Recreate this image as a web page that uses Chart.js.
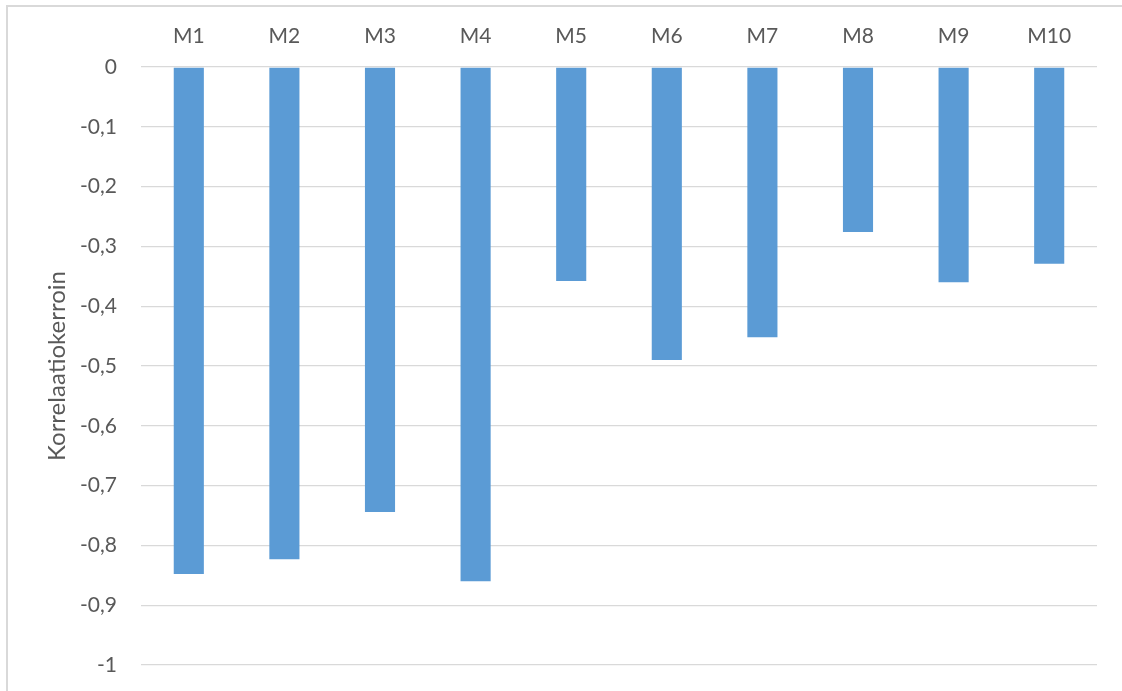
<!DOCTYPE html>
<html>
<head>
    <title>Korrelaatiokerroin</title>
    <script src="https://cdn.jsdelivr.net/npm/chart.js"></script>
    <style>
        html, body { margin: 0; padding: 0; background: #fff; overflow: hidden; }
        #frame { position: absolute; left: 6px; top: 5px; width: 1200px; height: 800px;
                 border-top: 2px solid #d9d9d9; border-left: 2px solid #d9d9d9; }
        #corrChart { position: absolute; left: 0; top: 0; }
    </style>
</head>
<body>
    <div id="frame"></div>
    <canvas id="corrChart" width="1122" height="691"></canvas>
    <script>
        const categories = ['M1', 'M2', 'M3', 'M4', 'M5', 'M6', 'M7', 'M8', 'M9', 'M10'];
        const values = [-0.848, -0.823, -0.744, -0.860, -0.358, -0.490, -0.452, -0.276, -0.360, -0.329];
        const tickLabels = ['0', '-0,1', '-0,2', '-0,3', '-0,4', '-0,5', '-0,6', '-0,7', '-0,8', '-0,9', '-1'];
        const axisTitle = 'Korrelaatiokerroin';

        const fontFamily = 'Lato, "Open Sans", sans-serif';
        const textColor = '#595959';

        const ctx = document.getElementById('corrChart').getContext('2d');
        new Chart(ctx, {
            type: 'bar',
            data: {
                labels: categories,
                datasets: [{
                    data: values,
                    backgroundColor: '#5b9bd5',
                    borderWidth: 0,
                    barPercentage: 0.315,
                    categoryPercentage: 1
                }]
            },
            options: {
                responsive: false,
                animation: false,
                layout: { padding: { left: 0, top: 0, right: 25, bottom: 26 } },
                plugins: {
                    legend: { display: false },
                    tooltip: { enabled: false }
                },
                scales: {
                    x: {
                        position: 'top',
                        grid: { display: false },
                        border: { display: false },
                        ticks: {
                            color: textColor,
                            font: { family: fontFamily, size: 21 },
                            padding: 10
                        },
                        afterFit: function(scale) {
                            scale.height = 67;
                            scale.paddingLeft = 0;
                            scale.paddingRight = 0;
                        }
                    },
                    y: {
                        min: -1,
                        max: 0,
                        grid: { color: '#d9d9d9', lineWidth: 1.3, drawTicks: false },
                        border: { display: false },
                        ticks: {
                            stepSize: 0.1,
                            color: textColor,
                            font: { family: fontFamily, size: 21 },
                            padding: 24,
                            callback: function(value) {
                                return tickLabels[Math.round(-value * 10)];
                            }
                        },
                        title: {
                            display: true,
                            text: axisTitle,
                            color: textColor,
                            font: { family: fontFamily, size: 24 },
                            padding: { top: 43, bottom: 0 }
                        },
                        afterFit: function(scale) {
                            scale.width = 141;
                            scale.paddingTop = 0;
                            scale.paddingBottom = 0;
                        }
                    }
                }
            }
        });
    </script>
</body>
</html>
